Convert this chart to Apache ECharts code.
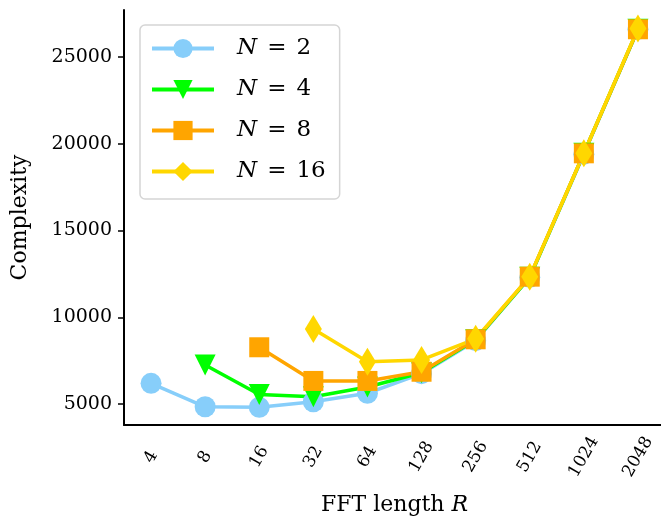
<!DOCTYPE html>
<html>
<head>
<meta charset="utf-8">
<script src="https://cdn.jsdelivr.net/npm/echarts@6/dist/echarts.min.js"></script>
<style>
html, body { margin: 0; padding: 0; background: #fff; }
#chart { width: 661px; height: 520px; }
</style>
</head>
<body>
<div id="chart"></div>
<script>
//FFT长度
var fftLength = ['4', '8', '16', '32', '64', '128', '256', '512', '1024', '2048'];
//各N值的复杂度
var n2Vals = [6190, 4840, 4810, 5130, 5620, 6750, 8650, 12300, 19400, 26600];
var n4Vals = [null, 7250, 5550, 5420, 5980, 6800, 8700, 12300, 19450, 26600];
var n8Vals = [null, null, 8270, 6330, 6330, 6860, 8730, 12340, 19450, 26600];
var n16Vals = [null, null, null, 9320, 7440, 7540, 8760, 12340, 19450, 26650];
var yTicks = [5000, 10000, 15000, 20000, 25000];

var serif = 'DejaVu Serif';

var makeSeries = function(name, data, color, symbol, size, rotate) {
	return {
		name: name,
		type: 'line',
		data: data,
		symbol: symbol,
		symbolSize: size,
		symbolRotate: rotate || 0,
		showAllSymbol: true,
		connectNulls: false,
		lineStyle: { color: color, width: 3.5 },
		itemStyle: { color: color },
		emphasis: { disabled: true }
	};
};

var chart = echarts.init(document.getElementById('chart'));
var option = {
	animation: false,
	grid: {
		left: 124,
		right: -4,
		top: 10,
		bottom: 95,
		outerBoundsMode: 'none',
		containLabel: false
	},
	legend: {
		orient: 'vertical',
		left: 140,
		top: 25,
		padding: [12, 14, 16, 10],
		itemWidth: 62,
		itemHeight: 24,
		itemGap: 18,
		borderColor: '#d5d5d5',
		borderWidth: 1.5,
		borderRadius: 5,
		backgroundColor: 'rgba(255,255,255,0.8)',
		lineStyle: { width: 4 },
		data: ['2', '4', '8', '16'],
		formatter: function(name) {
			return '{i|N}{e|=}' + name;
		},
		textStyle: {
			fontFamily: serif,
			fontSize: 23,
			color: '#000',
			padding: [0, 0, 0, 18],
			rich: {
				i: { fontFamily: serif, fontStyle: 'italic', fontSize: 23, color: '#000' },
				e: { fontFamily: serif, fontSize: 23, color: '#000', padding: [0, 10, 0, 10] }
			}
		}
	},
	xAxis: {
		type: 'category',
		data: fftLength,
		boundaryGap: true,
		name: '{n|FFT length }{i|R}',
		nameLocation: 'middle',
		nameGap: 69,
		nameTextStyle: {
			rich: {
				n: { fontFamily: serif, fontSize: 22, color: '#000' },
				i: { fontFamily: serif, fontSize: 22, fontStyle: 'italic', color: '#000' }
			}
		},
		axisLine: { lineStyle: { color: '#000', width: 2 } },
		axisTick: { alignWithLabel: true, length: 6, lineStyle: { color: '#000', width: 1.5 } },
		axisLabel: {
			rotate: 60,
			margin: 32,
			align: 'center',
			verticalAlign: 'middle',
			fontFamily: serif,
			fontSize: 17,
			color: '#000'
		},
		splitLine: { show: false }
	},
	yAxis: {
		type: 'value',
		min: 3790,
		max: 27710,
		name: 'Complexity',
		nameLocation: 'middle',
		nameGap: 93,
		nameTextStyle: { fontFamily: serif, fontSize: 22, color: '#000' },
		axisLine: { show: true, lineStyle: { color: '#000', width: 2 } },
		axisTick: { show: true, length: 6, customValues: yTicks, lineStyle: { color: '#000', width: 1.5 } },
		axisLabel: {
			margin: 12,
			fontFamily: serif,
			fontSize: 19,
			color: '#000',
			customValues: yTicks,
			formatter: function(v) {
				return String(v);
			}
		},
		splitLine: { show: false }
	},
	series: [
		makeSeries('2', n2Vals, '#87CEFA', 'circle', 21),
		makeSeries('4', n4Vals, '#00FF00', 'triangle', 21, 180),
		makeSeries('8', n8Vals, '#FFA500', 'rect', 20),
		makeSeries('16', n16Vals, '#FFD700', 'diamond', [17, 28])
	]
};
chart.setOption(option);
</script>
</body>
</html>
